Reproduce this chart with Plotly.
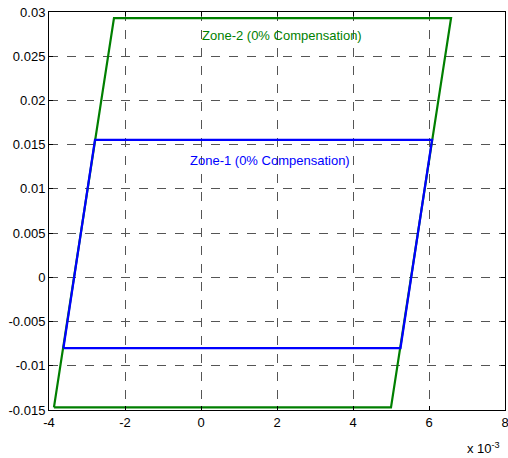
import plotly.graph_objects as go

# Zone-2 polygon (x in units of 1e-3)
zone2_x = [-3.87, -2.29, 6.58, 5.00, -3.87]
zone2_y = [-0.0147, 0.0293, 0.0293, -0.0147, -0.0147]

# Zone-1 polygon
zone1_x = [-3.62, -2.79, 6.08, 5.25, -3.62]
zone1_y = [-0.0080, 0.01555, 0.01555, -0.0080, -0.0080]

x_ticks = [-4, -2, 0, 2, 4, 6, 8]
x_ticktext = ["-4", "-2", "0", "2", "4", "6", "8"]
y_ticks = [-0.015, -0.01, -0.005, 0, 0.005, 0.01, 0.015, 0.02, 0.025, 0.03]
y_ticktext = ["-0.015", "-0.01", "-0.005", "0", "0.005", "0.01", "0.015", "0.02", "0.025", "0.03"]

fig = go.Figure()
fig.add_trace(go.Scatter(x=zone2_x, y=zone2_y, mode="lines",
                         line=dict(color="#007f00", width=2.2), showlegend=False))
fig.add_trace(go.Scatter(x=zone1_x, y=zone1_y, mode="lines",
                         line=dict(color="#0000ff", width=2.2), showlegend=False))

fig.add_annotation(x=2.13, y=0.0273, text="Zone-2 (0% Compensation)", showarrow=False,
                   font=dict(color="#007f00", size=13))
fig.add_annotation(x=1.82, y=0.0132, text="Zone-1 (0% Compensation)", showarrow=False,
                   font=dict(color="#0000ff", size=13))
fig.add_annotation(xref="paper", yref="paper", x=0.993, y=-0.095, xanchor="right", yanchor="middle",
                   text="x 10<sup>-3</sup>", showarrow=False, font=dict(size=13, color="black"))

axis_common = dict(showline=True, linecolor="black", linewidth=1, mirror="allticks",
                   ticks="inside", ticklen=4, tickcolor="black", automargin=False,
                   ticklabeloverflow="allow",
                   showgrid=True, gridcolor="#555555", griddash="dash", gridwidth=1,
                   zeroline=False, tickfont=dict(size=13, color="black"))

fig.update_xaxes(range=[-4, 8], tickvals=x_ticks, ticktext=x_ticktext, **axis_common)
fig.update_yaxes(range=[-0.015, 0.03], tickvals=y_ticks, ticktext=y_ticktext, **axis_common)

fig.update_layout(width=508, height=458,
                  margin=dict(l=49, r=3, t=12, b=48, autoexpand=False),
                  plot_bgcolor="white", paper_bgcolor="white",
                  font=dict(family="Liberation Sans, Arial, sans-serif", size=13, color="black"))

fig.write_html("out.html", config={"displayModeBar": False},
               post_script="document.body.style.margin='0';")
